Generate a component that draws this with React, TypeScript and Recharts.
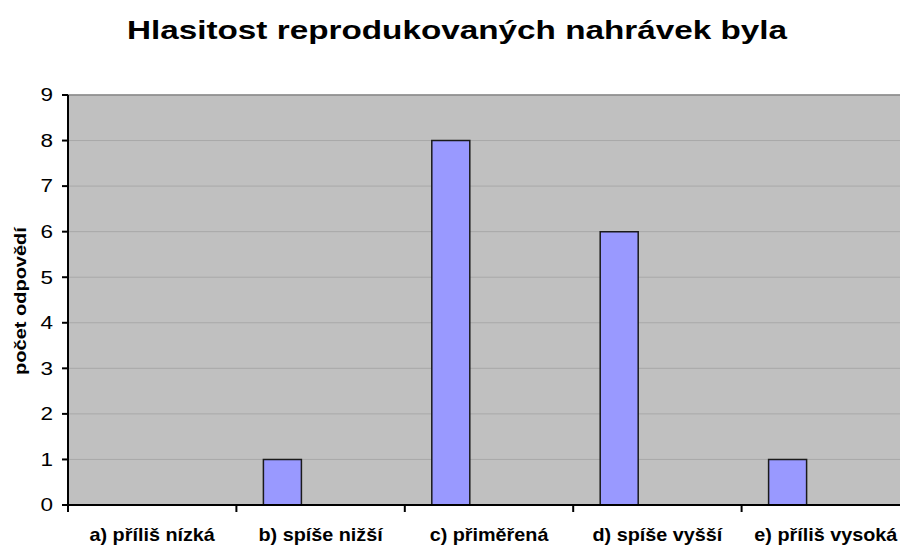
import { BarChart, Bar, XAxis, YAxis, CartesianGrid, ReferenceLine } from 'recharts'

const categories = ['a) příliš nízká', 'b) spíše nižší', 'c) přiměřená', 'd) spíše vyšší', 'e) příliš vysoká']
const counts = [0, 1, 8, 6, 1]
// the original chart keeps two more series per category that hold no values
const emptySeriesB = [null, null, null, null, null]
const emptySeriesC = [null, null, null, null, null]
const yTicks = [0, 1, 2, 3, 4, 5, 6, 7, 8, 9]

const title = 'Hlasitost reprodukovaných nahrávek byla'
const yLabel = 'počet odpovědí'

const data = categories.map((name, i) => ({
  name,
  count: counts[i],
  s2: emptySeriesB[i],
  s3: emptySeriesC[i],
}))

const CHART_W = 920
const CHART_H = 547
const MARGIN = { top: 95, right: 10, left: 8, bottom: 0 }
const Y_AXIS_W = 60
const X_AXIS_H = 42
const PLOT_LEFT = MARGIN.left + Y_AXIS_W
const PLOT_W = CHART_W - PLOT_LEFT - MARGIN.right
const AXIS_Y = CHART_H - MARGIN.bottom - X_AXIS_H
const BAND = PLOT_W / categories.length
const FONT = '"Liberation Sans", Arial, sans-serif'

// the source picture was stretched sideways, so text is widened to match
function CategoryTick(props: any) {
  const { x, payload } = props
  const left = x - BAND / 2
  return (
    <g>
      <line x1={left} x2={left} y1={AXIS_Y} y2={AXIS_Y + 7} stroke="#000" strokeWidth={2} />
      <text
        transform={`translate(${x},${AXIS_Y + 36}) scale(1.1,1)`}
        textAnchor="middle"
        fontFamily={FONT}
        fontWeight="bold"
        fontSize={18}
        fill="#000"
      >
        {payload.value}
      </text>
    </g>
  )
}

function ValueTick(props: any) {
  const { x, y, payload } = props
  return (
    <text
      transform={`translate(${x},${y}) scale(1.25,1)`}
      dy="0.35em"
      textAnchor="end"
      fontFamily={FONT}
      fontSize={18}
      fill="#000"
    >
      {payload.value}
    </text>
  )
}

export default function App() {
  return (
    <div
      style={{
        position: 'absolute',
        left: 0,
        top: 0,
        width: 900,
        height: 547,
        overflow: 'hidden',
        background: '#fff',
        fontFamily: FONT,
      }}
    >
      <BarChart
        width={CHART_W}
        height={CHART_H}
        data={data}
        margin={MARGIN}
        barCategoryGap={27}
        barGap={0}
      >
        <CartesianGrid vertical={false} fill="#C0C0C0" stroke="#A8A8A8" strokeWidth={1} />
        <ReferenceLine y={9} stroke="#8A8A8A" strokeWidth={1.5} />
        <XAxis
          dataKey="name"
          height={X_AXIS_H}
          interval={0}
          tickLine={false}
          axisLine={{ stroke: '#000', strokeWidth: 2 }}
          tick={<CategoryTick />}
        />
        <YAxis
          width={Y_AXIS_W}
          domain={[0, 9]}
          ticks={yTicks}
          interval={0}
          tickSize={6}
          tickMargin={9}
          axisLine={{ stroke: '#000', strokeWidth: 2 }}
          tickLine={{ stroke: '#000', strokeWidth: 2 }}
          tick={<ValueTick />}
        />
        <Bar dataKey="count" fill="#9999FF" stroke="#1a1a1a" strokeWidth={1.5} isAnimationActive={false} />
        <Bar dataKey="s2" fill="#993366" stroke="#1a1a1a" isAnimationActive={false} />
        <Bar dataKey="s3" fill="#FFFFCC" stroke="#1a1a1a" isAnimationActive={false} />
      </BarChart>
      <svg
        width={900}
        height={547}
        style={{ position: 'absolute', left: 0, top: 0, pointerEvents: 'none' }}
      >
        <text
          transform="translate(457,39) scale(1.28,1)"
          textAnchor="middle"
          fontFamily={FONT}
          fontWeight="bold"
          fontSize={26}
          fill="#000"
        >
          {title}
        </text>
        <text
          transform="translate(26,301) rotate(-90) scale(1.25,1)"
          textAnchor="middle"
          fontFamily={FONT}
          fontWeight="bold"
          fontSize={16}
          fill="#000"
        >
          {yLabel}
        </text>
      </svg>
    </div>
  )
}
